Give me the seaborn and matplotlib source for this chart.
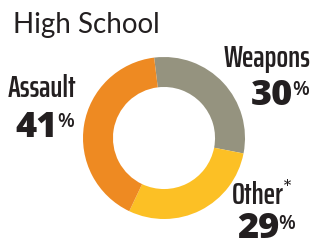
import matplotlib
matplotlib.use("Agg")
import matplotlib.pyplot as plt
import seaborn as sns

# Data
categories = ["Weapons", "Other", "Assault"]
values = [30, 29, 41]
label_names = ["Weapons", "Other", "Assault"]
pct_labels = ["30", "29", "41"]
colors = ["#95937F", "#FCC025", "#EE8A22"]
title = "High School"

sns.set_theme(style="white")
plt.rcParams["font.family"] = ["DejaVu Sans"]

W, H = 314, 242
fig = plt.figure(figsize=(W / 100, H / 100), dpi=100)
fig.patch.set_facecolor("white")

cx, cy, r = 164, 138, 81
ax = fig.add_axes([(cx - r) / W, (H - cy - r) / H, 2 * r / W, 2 * r / H])
ax.pie(values, colors=colors, startangle=97, counterclock=False,
       wedgeprops=dict(width=0.37, linewidth=0), radius=1)
ax.set_xlim(-1, 1)
ax.set_ylim(-1, 1)
ax.set_aspect("equal")
ax.axis("off")

txt = "#231F20"
def T(x, y, s, **kw):
    fig.text(x / W, 1 - y / H, s, color=txt, va="baseline", **kw)

# Title
T(13, 33, title, fontsize=20, family="Lato", fontweight=400)

cond = dict(family="Saira ExtraCondensed", fontstretch="condensed",
            fontweight=600, fontsize=22)
big = dict(family="Open Sans", fontweight=800, fontsize=26)
pc = dict(family="Open Sans", fontweight=600, fontsize=14)

# Assault
T(76, 97, label_names[2], ha="right", **cond)
T(58, 137, pct_labels[2], ha="right", **big)
T(57, 127, "%", ha="left", **pc)

# Weapons
T(310, 67, label_names[0], ha="right", **cond)
T(293, 105, pct_labels[0], ha="right", **big)
T(292, 95, "%", ha="left", **pc)

# Other
T(232, 204, label_names[1], ha="left", **cond)
T(283, 195, "*", ha="left", family="Saira ExtraCondensed",
  fontstretch="condensed", fontweight=400, fontsize=17)
T(279, 238, pct_labels[1], ha="right", **big)
T(278, 229, "%", ha="left", **pc)

fig.savefig("out.png", dpi=100)
